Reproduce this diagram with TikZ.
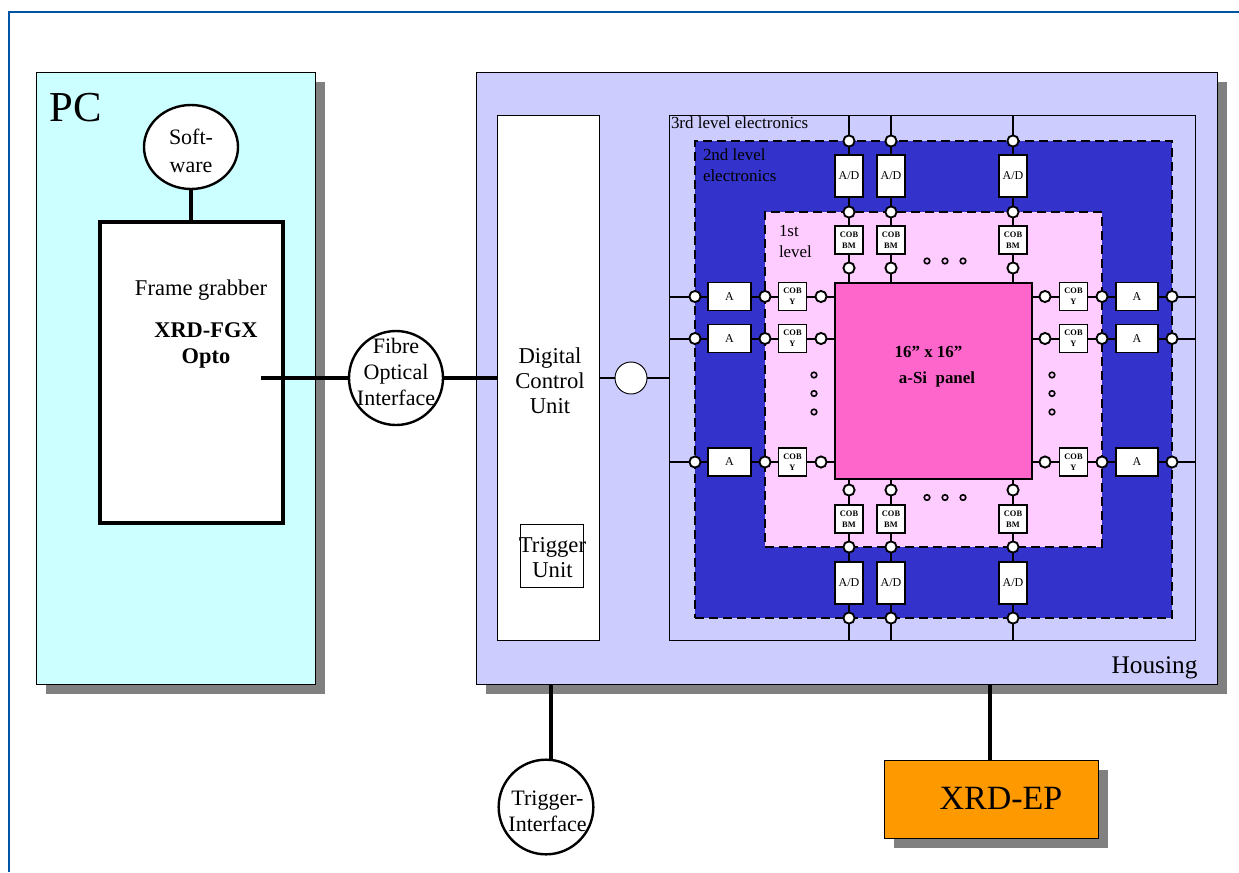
\documentclass[tikz,border=0pt]{standalone}
\usepackage{fontspec}
\setmainfont{Liberation Serif}
\usetikzlibrary{shapes.geometric}
\definecolor{frameblue}{HTML}{0054A6}
\definecolor{pccyan}{HTML}{CCFFFF}
\definecolor{housing}{HTML}{CCCCFF}
\definecolor{lvltwo}{HTML}{3333CC}
\definecolor{lvlone}{HTML}{FFCCFF}
\definecolor{panelpink}{HTML}{FF66CC}
\definecolor{eporange}{HTML}{FF9900}
\definecolor{shadowgray}{HTML}{808080}
\newcommand{\rectnode}[6]{%
  \pgfmathsetmacro{\cxx}{(#2+#4)/2}\pgfmathsetmacro{\cyy}{(#3+#5)/2}%
  \pgfmathsetmacro{\wdd}{(#4-#2)*0.75}\pgfmathsetmacro{\htt}{(#5-#3)*0.75}%
  \node[rectangle,inner sep=0pt,outer sep=0pt,minimum width=\wdd pt,minimum height=\htt pt,#6] (#1) at (\cxx,\cyy) {};}
\tikzset{
  x=0.75pt,y=-0.75pt,
  shadowbox/.style={fill=shadowgray,draw=none},
  thinbox/.style={draw=black,line width=0.7pt},
  lvlbox/.style={draw=black,line width=1.6pt,dash pattern=on 7pt off 3.5pt},
  bus/.style={draw=black,line width=2.4pt},
  heavybus/.style={draw=black,line width=3.4pt},
  wire/.style={draw=black,line width=1.5pt},
  ring/.style={circle,draw=black,fill=white,line width=1.4pt,minimum size=8.4pt,inner sep=0pt,outer sep=0pt},
  dotmark/.style={circle,draw=black,fill=none,line width=1.2pt,minimum size=4.2pt,inner sep=0pt},
  chip/.style={rectangle,draw=black,fill=white,line width=1.4pt,inner sep=0pt,outer sep=0pt,align=center},
  cob/.style={chip,minimum width=21pt,minimum height=21pt,font=\fontsize{6.3}{8.2}\selectfont\bfseries},
  adbox/.style={chip,minimum width=21pt,minimum height=32pt,font=\fontsize{9}{9}\selectfont},
  abox/.style={chip,minimum width=32pt,minimum height=21pt,font=\fontsize{9}{9}\selectfont},
  bigcircle/.style={ellipse,draw=black,fill=white,line width=1.8pt,inner sep=0pt,outer sep=0pt},
  lbl/.style={inner sep=0pt,outer sep=0pt,align=center},
  circtext/.style={lbl,font=\fontsize{16.5}{19.5}\selectfont},
}
\begin{document}
\begin{tikzpicture}
\useasboundingbox (0,0) rectangle (1239,872);
\draw[frameblue,line width=2pt] (9,872) -- (9,12) -- (1239,12);
% shadows
\fill[shadowbox] (46,82) rectangle (325,694);
\fill[shadowbox] (486,82) rectangle (1227,694);
\fill[shadowbox] (894,770) rectangle (1108,848);
% PC
\rectnode{pc}{36}{72}{315}{684}{thinbox,fill=pccyan}
\node[lbl,font=\fontsize{32}{36}\selectfont] (pclabel) at (75.5,108) {PC};
\rectnode{fg}{100}{222}{283}{523}{draw=black,fill=white,line width=2.3pt}
\node[bigcircle,minimum width=70.5pt,minimum height=63pt] (soft) at (191,147) {};
\node[lbl,font=\fontsize{16.5}{21.5}\selectfont] (softtext) at (191,151) {Soft-\\ware};
\draw[bus] (soft) -- (soft |- fg.north);
\node[lbl,font=\fontsize{16.9}{18}\selectfont] (fgtext) at (201,290) {Frame grabber};
\node[lbl,align=center,font=\fontsize{16.8}{19.5}\selectfont\bfseries] (fgx) at (206,345) {XRD-FGX\\Opto};
\coordinate (fgout) at (261,378);
\node[bigcircle,minimum size=70.5pt] (fibre) at (396,378) {};
\node[circtext] (fibretext) at (396,372) {Fibre\\Optical\\Interface};
% housing
\rectnode{house}{476}{72}{1217}{684}{thinbox,fill=housing}
\node[lbl,font=\fontsize{19}{20}\selectfont] (houselabel) at (1154.5,668) {Housing};
\rectnode{dcu}{497}{115}{599}{640}{thinbox,fill=white}
\node[lbl,align=center,font=\fontsize{17}{18.8}\selectfont] (dcutext) at (550,381) {Digital\\Control\\Unit};
\rectnode{trig}{520}{524}{583}{587}{thinbox,fill=white}
\node[lbl,align=center,font=\fontsize{17}{18.8}\selectfont] (trigtext) at (552.5,558) {Trigger\\Unit};
\draw[bus] (fgout) -- (fibre);
\draw[bus] (fibre) -- (fibre -| dcu.west);
% electronics levels
\rectnode{third}{669}{115}{1195}{640}{draw=black,line width=0.7pt}
\node[circle,draw=black,fill=white,line width=0.7pt,minimum size=24pt,inner sep=0pt,outer sep=0pt] (hub) at (631,378) {};
\draw[wire] (hub -| dcu.east) -- (hub);
\draw[wire] (hub) -- (hub -| third.west);
\rectnode{second}{695}{141}{1172}{618}{lvlbox,fill=lvltwo}
\rectnode{first}{765}{212}{1102}{547}{lvlbox,fill=lvlone}
\rectnode{panel}{835}{283}{1032}{479}{draw=black,line width=1.2pt,fill=panelpink}
\node[lbl,font=\fontsize{12.7}{13}\selectfont,anchor=west] (t3) at (671,123) {3rd level electronics};
\node[lbl,align=left,font=\fontsize{12.7}{15.7}\selectfont,anchor=north west] (t2) at (703,149) {2nd level\\electronics};
\node[lbl,align=left,font=\fontsize{12.7}{15.7}\selectfont,anchor=north west] (t1) at (779,225) {1st\\level};
\node[lbl,font=\fontsize{12.7}{14}\selectfont\bfseries] (p1) at (928.5,352) {16” x 16”};
\node[lbl,font=\fontsize{12.7}{14}\selectfont\bfseries] (p2) at (937,379) {a-Si\,\,\,panel};
% columns
\foreach \n/\x in {a/849,b/891,c/1013}{
  % top
  \node[ring] (tr1\n) at (\x,141) {};
  \node[adbox] (tad\n) at (\x,176) {A/D};
  \node[ring] (tr2\n) at (\x,212) {};
  \node[cob] (tcb\n) at (\x,240) {COB\\BM};
  \node[ring] (tr3\n) at (\x,268) {};
  \draw[wire] (tr1\n |- third.north) -- (tr1\n);
  \draw[wire] (tr1\n) -- (tad\n);
  \draw[wire] (tad\n) -- (tr2\n);
  \draw[wire] (tr2\n) -- (tcb\n);
  \draw[wire] (tcb\n) -- (tr3\n);
  \draw[wire] (tr3\n) -- (tr3\n |- panel.north);
  % bottom
  \node[ring] (br3\n) at (\x,490) {};
  \node[cob] (bcb\n) at (\x,519) {COB\\BM};
  \node[ring] (br2\n) at (\x,547) {};
  \node[adbox] (bad\n) at (\x,583) {A/D};
  \node[ring] (br1\n) at (\x,618) {};
  \draw[wire] (br3\n |- panel.south) -- (br3\n);
  \draw[wire] (br3\n) -- (bcb\n);
  \draw[wire] (bcb\n) -- (br2\n);
  \draw[wire] (br2\n) -- (bad\n);
  \draw[wire] (bad\n) -- (br1\n);
  \draw[wire] (br1\n) -- (br1\n |- third.south);
}
% rows
\foreach \n/\y in {a/296.5,b/338.5,c/462}{
  % left
  \node[ring] (lr1\n) at (695,\y) {};
  \node[abox] (la\n) at (729.5,\y) {A};
  \node[ring] (lr2\n) at (765,\y) {};
  \node[cob] (lcb\n) at (792.5,\y) {COB\\Y};
  \node[ring] (lr3\n) at (821,\y) {};
  \draw[wire] (lr1\n -| third.west) -- (lr1\n);
  \draw[wire] (lr1\n) -- (la\n);
  \draw[wire] (la\n) -- (lr2\n);
  \draw[wire] (lr2\n) -- (lcb\n);
  \draw[wire] (lcb\n) -- (lr3\n);
  \draw[wire] (lr3\n) -- (lr3\n -| panel.west);
  % right
  \node[ring] (rr3\n) at (1045,\y) {};
  \node[cob] (rcb\n) at (1073.5,\y) {COB\\Y};
  \node[ring] (rr2\n) at (1102,\y) {};
  \node[abox] (ra\n) at (1137,\y) {A};
  \node[ring] (rr1\n) at (1172,\y) {};
  \draw[wire] (rr3\n -| panel.east) -- (rr3\n);
  \draw[wire] (rr3\n) -- (rcb\n);
  \draw[wire] (rcb\n) -- (rr2\n);
  \draw[wire] (rr2\n) -- (ra\n);
  \draw[wire] (ra\n) -- (rr1\n);
  \draw[wire] (rr1\n) -- (rr1\n -| third.east);
}
% ellipsis dots
\foreach \i/\d in {1/927,2/945,3/963}{
  \node[dotmark] (td\i) at (\d,261) {};
  \node[dotmark] (bd\i) at (\d,497.5) {};
}
\foreach \i/\d in {1/375,2/393.5,3/412}{
  \node[dotmark] (ld\i) at (814,\d) {};
  \node[dotmark] (rd\i) at (1052,\d) {};
}
% bottom items
\node[bigcircle,minimum size=71pt] (tif) at (546,807) {};
\node[circtext] (tiftext) at (547.5,811) {Trigger-\\Interface};
\coordinate (tifstart) at (551,684);
\draw[heavybus] (tifstart) -- (tifstart |- tif.north);
\rectnode{ep}{884}{760}{1098}{838}{draw=black,line width=0.7pt,fill=eporange}
\node[lbl,font=\fontsize{25.5}{30}\selectfont] (eptext) at (1001,798) {XRD-EP};
\coordinate (epstart) at (990,684);
\draw[heavybus] (epstart) -- (epstart |- ep.north);
\end{tikzpicture}
\end{document}
